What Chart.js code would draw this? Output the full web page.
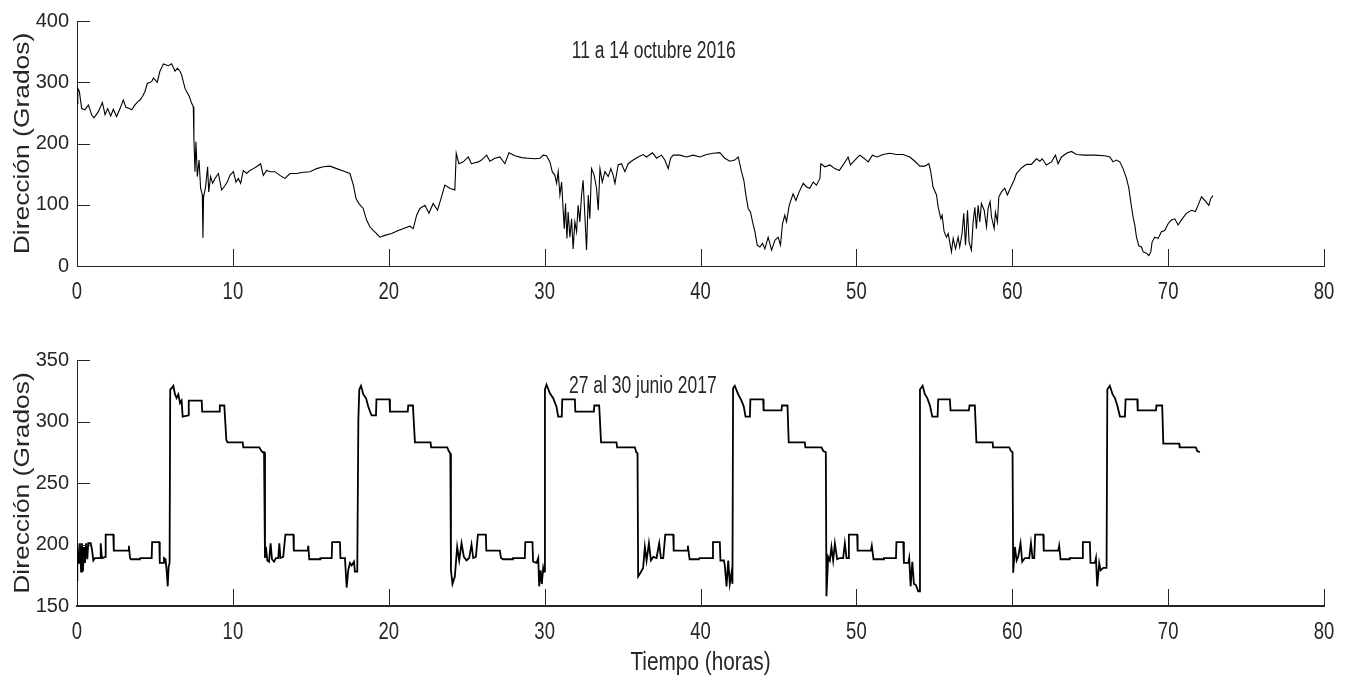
<!DOCTYPE html>
<html>
<head>
<meta charset="utf-8">
<script src="https://cdn.jsdelivr.net/npm/chart.js@4/dist/chart.umd.min.js"></script>
<style>
  html, body { margin: 0; padding: 0; background: #fff; }
  #wrap { position: relative; width: 1351px; height: 679px; overflow: hidden; background: #fff; }
  canvas { position: absolute; left: 0; }
</style>
</head>
<body>
<div id="wrap">
  <canvas id="oct" width="1351" height="310" style="top:0;width:1351px;height:310px"></canvas>
  <canvas id="jun" width="1351" height="369" style="top:310px;width:1351px;height:369px"></canvas>
</div>
<script>
// 11-14 octubre 2016: wind direction (degrees) against elapsed hours
const octHours = [
  0.00,0.05,0.15,0.30,0.51,0.73,0.94,1.09,1.37,1.63,1.80,1.97,2.16,2.33,2.54,2.76,2.97,3.14,3.36,3.51,
  3.72,3.89,4.04,4.21,4.36,4.51,4.79,4.90,5.15,5.32,5.54,5.86,6.07,6.29,6.44,6.61,6.71,6.93,7.03,7.20,
  7.35,7.46,7.50,7.57,7.63,7.72,7.83,7.93,8.04,8.08,8.12,8.25,8.38,8.45,8.57,8.70,8.85,9.07,9.28,9.43,
  9.64,9.81,10.03,10.20,10.35,10.50,10.67,10.88,11.10,11.31,11.52,11.78,11.95,12.17,12.38,12.70,13.02,13.34,13.66,14.09,
  14.52,14.95,15.37,15.80,16.23,16.66,17.08,17.51,17.73,17.90,18.11,18.36,18.58,18.79,19.00,19.22,19.43,19.75,20.18,20.61,
  21.04,21.36,21.57,21.79,22.00,22.32,22.58,22.85,23.13,23.35,23.60,23.92,24.24,24.33,24.50,24.78,25.10,25.31,25.74,25.95,
  26.28,26.49,26.81,27.13,27.45,27.71,28.10,28.52,28.95,29.38,29.70,29.91,30.12,30.34,30.49,30.66,30.77,30.87,30.98,31.09,
  31.19,31.26,31.34,31.43,31.51,31.62,31.73,31.83,31.94,32.05,32.15,32.26,32.37,32.47,32.58,32.69,32.80,32.90,33.01,33.18,
  33.33,33.44,33.55,33.70,33.87,34.08,34.25,34.40,34.51,34.72,34.93,35.15,35.36,35.68,36.00,36.32,36.54,36.92,37.18,37.50,
  37.71,37.93,38.08,38.25,38.68,39.10,39.53,39.96,40.39,40.81,41.24,41.56,41.88,42.20,42.42,42.63,42.78,42.91,43.06,43.21,
  43.34,43.49,43.64,43.81,43.98,44.13,44.34,44.56,44.77,44.98,45.13,45.26,45.41,45.52,45.69,45.94,46.12,46.33,46.59,46.80,
  47.01,47.23,47.44,47.66,47.72,47.98,48.30,48.62,48.90,49.15,49.47,49.62,49.90,50.22,50.48,50.76,51.03,51.33,51.72,52.15,
  52.57,53.00,53.43,53.75,54.07,54.39,54.65,54.77,54.92,55.14,55.25,55.42,55.50,55.63,55.78,55.89,55.99,56.10,56.21,56.36,
  56.53,56.63,56.78,56.89,57.00,57.13,57.23,57.38,57.49,57.60,57.70,57.81,57.92,58.02,58.20,58.35,58.45,58.58,58.67,58.84,
  58.92,59.05,59.14,59.31,59.52,59.69,59.91,60.12,60.27,60.59,60.91,61.23,61.55,61.77,61.92,62.19,62.52,62.77,62.94,63.16,
  63.48,63.80,64.12,64.65,65.29,65.94,66.26,66.47,66.68,66.90,67.11,67.33,67.48,67.60,67.75,67.86,67.97,68.12,68.29,68.40,
  68.61,68.76,68.89,68.97,69.14,69.36,69.57,69.78,70.00,70.21,70.43,70.64,70.90,71.17,71.50,71.75,71.92,72.14,72.35,72.61,
  72.73,72.88
];
const octDir = [
  265,290,285,257,255,263,247,242,252,267,247,257,245,256,244,257,271,259,257,255,
  263,268,271,277,285,298,301,307,300,318,330,327,330,318,323,318,312,290,285,277,
  266,260,208,154,203,146,173,127,116,46,113,129,162,121,146,135,143,151,124,129,
  137,148,154,137,143,135,156,151,156,159,162,167,148,156,154,154,148,143,151,151,
  153,154,159,162,163,159,155,151,132,110,101,94,75,64,58,53,47,50,53,58,
  62,65,61,83,94,99,86,102,91,110,132,127,124,184,167,170,178,167,170,173,
  181,171,176,178,167,185,180,177,176,175,176,181,180,170,154,148,135,154,116,137,
  91,61,102,45,88,47,77,28,72,56,99,72,116,140,83,26,116,77,159,148,
  127,91,159,137,154,146,159,148,135,165,167,154,167,173,178,182,178,185,176,181,
  173,159,176,181,181,178,181,178,182,184,185,176,171,173,178,154,140,116,94,88,
  72,56,34,31,37,28,47,26,42,47,34,69,83,72,99,118,107,121,135,129,
  127,137,132,143,167,162,165,159,156,165,178,165,173,181,176,170,181,178,182,184,
  182,182,178,171,163,163,167,154,129,116,96,77,83,56,47,53,39,23,45,28,
  47,31,53,86,34,91,39,26,72,96,61,99,72,102,91,64,94,105,80,61,
  88,72,113,121,127,116,129,140,151,160,166,166,175,171,175,165,170,181,167,178,
  184,187,182,181,181,180,178,170,173,170,159,143,127,105,80,67,47,33,31,23,
  21,17,23,39,47,45,56,58,69,75,77,67,77,86,91,89,99,113,107,99,
  110,115
];

// 27-30 junio 2017: wind direction (degrees) against elapsed hours
const junHours = [
  0.00,0.02,0.13,0.19,0.26,0.32,0.38,0.45,0.51,0.58,0.66,0.72,0.88,0.96,1.05,1.15,1.48,1.52,1.58,1.63,
  1.82,1.84,2.33,2.36,3.29,3.33,3.40,3.46,4.04,4.06,4.79,4.82,5.28,5.31,5.54,5.58,5.68,5.75,5.82,5.88,
  5.94,5.98,6.07,6.18,6.29,6.39,6.50,6.61,6.71,6.78,7.14,7.17,8.00,8.03,9.13,9.16,9.45,9.58,9.66,10.63,
  10.67,11.70,11.78,11.91,12.00,12.06,12.12,12.21,12.32,12.42,12.51,12.64,12.76,12.91,12.98,13.05,13.23,13.37,13.88,13.91,
  14.80,14.84,14.90,15.59,15.62,16.34,16.37,16.87,16.90,17.19,17.30,17.40,17.51,17.62,17.77,17.83,17.98,18.05,18.11,18.22,
  18.37,18.54,18.69,18.80,18.90,19.18,19.21,20.05,20.08,21.22,21.25,21.55,21.68,22.68,22.72,23.75,23.85,23.95,23.99,24.09,
  24.24,24.39,24.52,24.67,24.82,24.99,25.16,25.31,25.42,25.59,25.72,26.23,26.26,27.13,27.20,27.34,27.94,27.97,28.73,28.76,
  29.22,29.26,29.48,29.59,29.65,29.74,29.82,29.91,29.96,30.02,30.12,30.34,30.55,30.76,30.87,31.10,31.13,31.94,31.97,33.16,
  33.19,33.50,33.62,34.61,34.65,35.79,35.88,35.96,36.00,36.15,36.32,36.43,36.54,36.69,36.82,36.97,37.18,37.35,37.46,37.61,
  37.74,38.25,38.28,39.15,39.19,39.30,39.90,39.93,40.77,40.80,41.24,41.28,41.50,41.56,41.67,41.78,41.88,41.99,42.05,42.09,
  42.20,42.42,42.63,42.78,42.89,43.17,43.20,44.02,44.05,45.20,45.23,45.58,45.66,46.69,46.73,47.76,47.88,48.04,48.08,48.19,
  48.30,48.40,48.51,48.62,48.77,48.94,49.15,49.26,49.37,49.47,49.52,50.05,50.08,50.93,50.99,51.10,51.73,51.77,52.54,52.57,
  53.01,53.05,53.33,53.39,53.48,53.59,53.69,53.82,53.97,54.03,54.08,54.25,54.40,54.55,54.72,54.87,55.21,55.25,56.00,56.04,
  57.22,57.26,57.60,57.70,58.74,58.77,59.81,59.92,60.02,60.06,60.17,60.28,60.38,60.53,60.64,60.81,61.09,61.20,61.30,61.41,
  61.47,61.99,62.02,62.95,63.01,63.10,63.66,63.69,64.49,64.53,64.98,65.02,65.30,65.37,65.45,65.58,65.67,65.84,66.05,66.10,
  66.26,66.44,66.59,66.74,66.91,67.23,67.27,68.02,68.05,69.22,69.25,69.62,69.69,70.71,70.74,71.78,71.87,72.04
];
const junDir = [
  171,201,185,201,178,201,178,198,185,201,188,201,201,196,187,189,189,201,191,189,
  190,208,208,195,195,199,189,188,188,189,189,202,202,185,185,189,188,179,166,182,
  185,326,327,329,322,319,322,315,317,304,305,317,317,308,308,313,313,285,283,283,
  279,279,277,275,275,189,198,187,186,201,188,186,189,189,201,189,190,208,208,195,
  195,199,188,188,189,189,202,202,189,189,165,179,185,183,186,178,178,301,326,329,
  322,319,312,308,305,305,318,318,308,308,313,313,283,283,279,279,276,274,179,168,
  174,198,187,201,190,187,189,200,189,190,208,208,195,195,189,188,188,189,189,202,
  202,186,185,189,166,179,168,181,178,326,330,323,319,312,304,304,318,318,308,308,
  313,313,283,283,279,279,275,274,174,177,181,198,187,201,187,190,189,201,189,189,
  208,208,195,195,199,188,188,189,189,202,202,187,187,183,166,187,168,177,168,327,
  329,322,317,312,304,304,318,318,309,309,313,313,283,283,279,279,276,275,158,190,
  187,198,187,201,188,189,189,201,189,189,208,208,195,195,199,188,188,189,189,202,
  202,185,185,189,166,186,168,167,162,162,326,329,322,319,313,304,304,318,318,309,
  309,313,313,283,283,279,279,276,275,177,198,187,190,201,186,189,189,201,189,189,
  208,208,195,195,199,188,188,189,189,202,202,185,185,189,166,185,179,181,181,326,
  329,322,319,313,304,304,318,318,309,309,313,313,282,282,279,279,276,275
];

// Axis ticks
const hourTicks = [0, 10, 20, 30, 40, 50, 60, 70, 80];
const octTicks = [0, 100, 200, 300, 400];
const junTicks = [150, 200, 250, 300, 350];

const INK = '#262626';
const FAMILY = '"Liberation Sans", Arial, Helvetica, sans-serif';

// Text drawn with a horizontal stretch factor (sx) along its own baseline
function drawText(ctx, text, x, y, size, sx, rot) {
  ctx.save();
  ctx.translate(x, y);
  if (rot) ctx.rotate(rot);
  ctx.scale(sx, 1);
  ctx.font = size + 'px ' + FAMILY;
  ctx.fillStyle = INK;
  ctx.textAlign = 'center';
  ctx.textBaseline = 'alphabetic';
  ctx.fillText(text, 0, 0);
  ctx.restore();
}

// Inward tick marks, narrow hour labels, axis titles and the panel caption
const axesDecor = {
  id: 'axesDecor',
  afterDraw(chart, args, o) {
    const { ctx, chartArea: a, scales: { x, y } } = chart;
    ctx.save();
    ctx.strokeStyle = INK;
    ctx.lineWidth = 1;
    ctx.beginPath();
    y.ticks.forEach(t => {
      const py = Math.round(y.getPixelForValue(t.value)) + 0.5;
      ctx.moveTo(a.left, py);
      ctx.lineTo(a.left + o.yTickLen, py);
    });
    x.ticks.forEach(t => {
      const px = Math.round(x.getPixelForValue(t.value)) + 0.5;
      ctx.moveTo(px, a.bottom);
      ctx.lineTo(px, a.bottom - o.xTickLen);
    });
    ctx.stroke();
    ctx.restore();

    x.ticks.forEach(t => {
      drawText(ctx, String(t.value), x.getPixelForValue(t.value), a.bottom + o.xLabelDrop, 24, 0.77);
    });
    drawText(ctx, o.yTitle, o.yTitleX, (a.top + a.bottom) / 2, 22, 1.2, -Math.PI / 2);
    drawText(ctx, o.caption, x.getPixelForValue(o.captionAt[0]), y.getPixelForValue(o.captionAt[1]), 23, 0.76);
    if (o.xTitle) {
      drawText(ctx, o.xTitle, (a.left + a.right) / 2, o.xTitleY, 26, 0.8);
    }
  }
};

function makePanel(id, hours, dir, yTicks, lineWidth, xBorderWidth, padTop, xAxisHeight, decor) {
  return new Chart(document.getElementById(id), {
    type: 'line',
    data: {
      datasets: [{
        data: hours.map((h, i) => ({ x: h, y: dir[i] })),
        borderColor: '#000',
        borderWidth: lineWidth,
        pointRadius: 0,
        tension: 0,
        fill: false
      }]
    },
    plugins: [axesDecor],
    options: {
      responsive: false,
      animation: false,
      devicePixelRatio: 1,
      layout: { padding: { left: 0, right: 27, top: padTop, bottom: 0 } },
      plugins: {
        legend: { display: false },
        tooltip: { enabled: false },
        axesDecor: decor
      },
      scales: {
        x: {
          type: 'linear',
          min: hourTicks[0],
          max: hourTicks[hourTicks.length - 1],
          afterBuildTicks: s => { s.ticks = hourTicks.map(v => ({ value: v })); },
          afterFit: s => { s.height = xAxisHeight; },
          ticks: { display: false },
          grid: { display: false, drawTicks: false },
          border: { display: true, color: INK, width: xBorderWidth }
        },
        y: {
          type: 'linear',
          min: yTicks[0],
          max: yTicks[yTicks.length - 1],
          afterBuildTicks: s => { s.ticks = yTicks.map(v => ({ value: v })); },
          afterFit: s => { s.width = 77; },
          ticks: {
            color: INK,
            padding: 8,
            font: { family: FAMILY, size: 20 },
            callback: v => String(v)
          },
          grid: { display: false, drawTicks: false },
          border: { display: true, color: INK, width: 1 }
        }
      }
    }
  });
}

makePanel('oct', octHours, octDir, octTicks, 1.1, 1, 21, 44, {
  yTickLen: 13, xTickLen: 17, xLabelDrop: 33, yTitleX: 28.5,
  yTitle: 'Dirección (Grados)',
  caption: '11 a 14 octubre 2016', captionAt: [37, 340]
});

makePanel('jun', junHours, junDir, junTicks, 1.8, 2, 50, 73, {
  yTickLen: 13, xTickLen: 17, xLabelDrop: 33, yTitleX: 28.5,
  yTitle: 'Dirección (Grados)',
  caption: '27 al 30 junio 2017', captionAt: [36.3, 323],
  xTitle: 'Tiempo (horas)', xTitleY: 360
});
</script>
</body>
</html>
